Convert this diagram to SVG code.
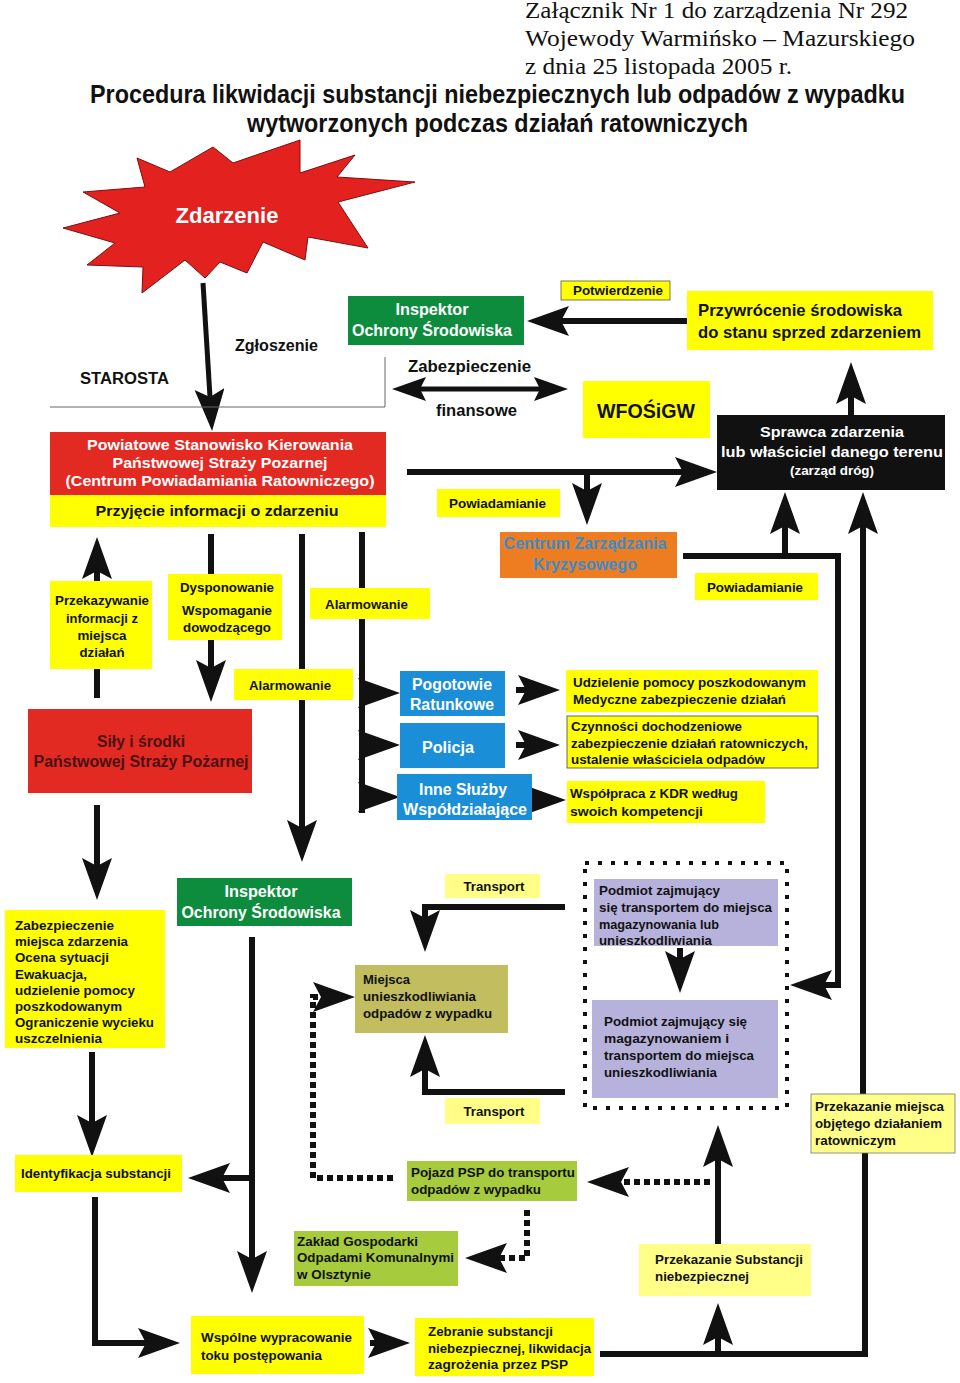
<svg xmlns="http://www.w3.org/2000/svg" width="960" height="1383" viewBox="0 0 960 1383">
<style>
text{font-family:"Liberation Sans",Arial,sans-serif;font-weight:bold;fill:#111;font-size:13.5px;}
.hd{font-family:"Liberation Serif","Times New Roman",serif;font-weight:normal;font-size:23px;}
.ti{font-size:25px;}
.w{fill:#fff;}
.s13{font-size:13px;}
.s15{font-size:15px;}
.s16{font-size:16px;}
.s17{font-size:17px;}
.m{text-anchor:middle;}
.y{fill:#ffff00;}
.ly{fill:#ffff88;}
.red{fill:#e32a22;}
.grn{fill:#0e8c3e;}
.blu{fill:#1a8ed6;}
.lime{fill:#a6cb3c;}
.pur{fill:#b7b2dc;}
.ln{fill:none;stroke:#111;stroke-width:6;}
.ar{marker-end:url(#ah);}
.dt{stroke-dasharray:6 4;}
</style>
<defs>
<marker id="ah" viewBox="0 0 42 30" markerWidth="42" markerHeight="30" refX="8" refY="15" orient="auto-start-reverse" markerUnits="userSpaceOnUse"><path d="M0,0 L42,15 L0,30 L8,15 z" fill="#111"/></marker>
<marker id="ahs" viewBox="0 0 34 24" markerWidth="34" markerHeight="24" refX="6" refY="12" orient="auto-start-reverse" markerUnits="userSpaceOnUse"><path d="M0,0 L34,12 L0,24 L6,12 z" fill="#111"/></marker>
</defs>
<rect width="960" height="1383" fill="#fff"/>

<g id="header">
<text class="hd" x="525" y="18" textLength="383" lengthAdjust="spacingAndGlyphs">Załącznik Nr 1 do zarządzenia Nr 292</text>
<text class="hd" x="525" y="46" textLength="390" lengthAdjust="spacingAndGlyphs">Wojewody Warmińsko – Mazurskiego</text>
<text class="hd" x="525" y="74" textLength="267" lengthAdjust="spacingAndGlyphs">z dnia 25 listopada 2005 r.</text>
<text class="ti" x="90" y="103" textLength="815" lengthAdjust="spacingAndGlyphs">Procedura likwidacji substancji niebezpiecznych lub odpadów z wypadku</text>
<text class="ti" x="247" y="132" textLength="501" lengthAdjust="spacingAndGlyphs">wytworzonych podczas działań ratowniczych</text>
</g>

<g id="connectors">
<path class="ln ar" style="stroke-width:5" d="M203,283 L210,397"/>
<path class="ln ar" d="M687,321 H561"/>
<path class="ln" style="stroke-width:5;marker-start:url(#ahs);marker-end:url(#ahs)" d="M420,389 H540"/>
<path class="ln ar" d="M851,416 V396"/>
<path class="ln ar" d="M407,472 H683"/>
<path class="ln ar" d="M587,472 V491"/>
<path class="ln ar" d="M683,556 H838 V985 H824"/>
<path class="ln ar" d="M785,556 V526"/>
<path class="ln ar" d="M863,1095 V526"/>
<path class="ln ar" d="M97,581 V571"/>
<path class="ln" d="M97,669 V698"/>
<path class="ln" d="M211,534 V574"/>
<path class="ln ar" d="M211,640 V668"/>
<path class="ln ar" d="M302,534 V828"/>
<path class="ln" d="M362,532 V813"/>
<path class="ln ar" d="M362,693 H366"/>
<path class="ln ar" d="M362,745 H366"/>
<path class="ln ar" d="M362,797 H366"/>
<path class="ln ar" d="M516,690 H526"/>
<path class="ln ar" d="M516,745 H526"/>
<path class="ln ar" d="M530,800 H532"/>
<path class="ln ar" d="M97,805 V866"/>
<path class="ln ar" d="M92,1052 V1123"/>
<path class="ln ar" d="M95,1197 V1343 H146"/>
<path class="ln ar" d="M252,937 V1259"/>
<path class="ln ar" d="M252,1178 H222"/>
<path class="ln ar" d="M565,907 H425 V918"/>
<path class="ln ar" d="M565,1092 H425 V1069"/>
<path class="ln ar" d="M680,948 V959"/>
<path class="ln ar" d="M370,1343 H376"/>
<path class="ln" d="M600,1354 H865 V1153"/>
<path class="ln ar" d="M718,1354 V1337"/>
<path class="ln ar" d="M718,1244 V1159"/>
<path class="ln ar dt" d="M710,1182 H621"/>
<path class="ln ar dt" d="M527,1210 V1258 H499"/>
<path class="ln ar dt" d="M393,1178 H313 V997 H321"/>
<path fill="none" stroke="#666" stroke-width="1" d="M50,407 H385 V357"/>
<rect x="585" y="863" width="202" height="245" fill="none" stroke="#111" stroke-width="4" stroke-dasharray="4 9"/>
</g>

<g id="zdarzenie">
<polygon points="83,192 145,187 137,158 170,172 213,147 233,163 300,140 300,173 355,155 337,177 415,182 338,202 368,248 308,237 305,260 263,242 247,273 220,262 205,278 185,260 142,293 143,267 87,265 115,243 63,228 120,213" fill="#e3211f" stroke="#7a1010" stroke-width="1"/>
<text class="w m" style="font-size:22px" x="227" y="223" textLength="103" lengthAdjust="spacingAndGlyphs">Zdarzenie</text>
</g>

<g id="labels-top">
<text class="s16" x="235" y="351" textLength="83" lengthAdjust="spacingAndGlyphs">Zgłoszenie</text>
<text class="s16" x="80" y="384" textLength="89" lengthAdjust="spacingAndGlyphs">STAROSTA</text>
<text class="s16" x="408" y="372" textLength="123" lengthAdjust="spacingAndGlyphs">Zabezpieczenie</text>
<text class="s16" x="436" y="416" textLength="81" lengthAdjust="spacingAndGlyphs">finansowe</text>
</g>

<g id="psk">
<rect class="red" x="50" y="432" width="336" height="63"/>
<rect class="y" x="50" y="495" width="336" height="32"/>
<text class="w m s15" x="220" y="450" textLength="266" lengthAdjust="spacingAndGlyphs">Powiatowe Stanowisko Kierowania</text>
<text class="w m s15" x="220" y="468" textLength="215" lengthAdjust="spacingAndGlyphs">Państwowej Straży Pozarnej</text>
<text class="w m s15" x="220" y="486" textLength="309" lengthAdjust="spacingAndGlyphs">(Centrum Powiadamiania Ratowniczego)</text>
<text class="m s15" x="217" y="516" textLength="243" lengthAdjust="spacingAndGlyphs">Przyjęcie informacji o zdarzeniu</text>
</g>

<g id="ios-top">
<rect class="grn" x="348" y="296" width="176" height="49"/>
<text class="w m s16" x="432" y="315" textLength="73" lengthAdjust="spacingAndGlyphs">Inspektor</text>
<text class="w m s16" x="432" y="336" textLength="160" lengthAdjust="spacingAndGlyphs">Ochrony Środowiska</text>
</g>

<g id="potwierdzenie">
<rect class="y" x="561" y="281" width="109" height="19" stroke="#555" stroke-width="0.8"/>
<text class="s13" x="573" y="295" textLength="90" lengthAdjust="spacingAndGlyphs">Potwierdzenie</text>
</g>

<g id="przywrocenie">
<rect class="y" x="687" y="291" width="246" height="59"/>
<text class="s17" x="698" y="316" textLength="204" lengthAdjust="spacingAndGlyphs">Przywrócenie środowiska</text>
<text class="s17" x="698" y="338" textLength="223" lengthAdjust="spacingAndGlyphs">do stanu sprzed zdarzeniem</text>
</g>

<g id="wfos">
<rect class="y" x="583" y="381" width="127" height="57"/>
<text class="m" style="font-size:21px" x="646" y="418" textLength="98" lengthAdjust="spacingAndGlyphs">WFOŚiGW</text>
</g>

<g id="sprawca">
<rect x="717" y="415" width="228" height="75" fill="#111"/>
<text class="w m s15" x="832" y="437" textLength="144" lengthAdjust="spacingAndGlyphs">Sprawca zdarzenia</text>
<text class="w m s15" x="832" y="457" textLength="222" lengthAdjust="spacingAndGlyphs">lub właściciel danego terenu</text>
<text class="w m s13" x="832" y="475" textLength="84" lengthAdjust="spacingAndGlyphs">(zarząd dróg)</text>
</g>

<g id="powiadamianie1">
<rect class="y" x="437" y="489" width="123" height="28"/>
<text class="s13" x="449" y="508" textLength="97" lengthAdjust="spacingAndGlyphs">Powiadamianie</text>
</g>

<g id="czk">
<rect x="500" y="532" width="177" height="46" fill="#ee7d22"/>
<text class="m s16" style="fill:#3a8ccc" x="585" y="549" textLength="163" lengthAdjust="spacingAndGlyphs">Centrum Zarządzania</text>
<text class="m s16" style="fill:#3a8ccc" x="585" y="570" textLength="104" lengthAdjust="spacingAndGlyphs">Kryzysowego</text>
</g>

<g id="powiadamianie2">
<rect class="y" x="695" y="573" width="123" height="27"/>
<text class="s13" x="707" y="592" textLength="96" lengthAdjust="spacingAndGlyphs">Powiadamianie</text>
</g>

<g id="przekazywanie">
<rect class="y" x="50" y="581" width="102" height="88"/>
<text class="m s13" x="102" y="605" textLength="94" lengthAdjust="spacingAndGlyphs">Przekazywanie</text>
<text class="m s13" x="102" y="623" textLength="72" lengthAdjust="spacingAndGlyphs">informacji z</text>
<text class="m s13" x="102" y="640" textLength="49" lengthAdjust="spacingAndGlyphs">miejsca</text>
<text class="m s13" x="102" y="657" textLength="45" lengthAdjust="spacingAndGlyphs">działań</text>
</g>

<g id="dysponowanie">
<rect class="y" x="168" y="574" width="114" height="66"/>
<text class="m s13" x="227" y="592" textLength="94" lengthAdjust="spacingAndGlyphs">Dysponowanie</text>
<text class="m s13" x="227" y="615" textLength="90" lengthAdjust="spacingAndGlyphs">Wspomaganie</text>
<text class="m s13" x="227" y="632" textLength="88" lengthAdjust="spacingAndGlyphs">dowodzącego</text>
</g>

<g id="alarmowanie1">
<rect class="y" x="310" y="588" width="120" height="31"/>
<text class="s13" x="325" y="609" textLength="83" lengthAdjust="spacingAndGlyphs">Alarmowanie</text>
</g>

<g id="alarmowanie2">
<rect class="y" x="234" y="669" width="119" height="31"/>
<text class="s13" x="249" y="690" textLength="82" lengthAdjust="spacingAndGlyphs">Alarmowanie</text>
</g>

<g id="sily">
<rect class="red" x="28" y="709" width="224" height="84"/>
<text class="m s16" style="fill:#4a1212" x="141" y="747" textLength="88" lengthAdjust="spacingAndGlyphs">Siły i środki</text>
<text class="m s16" style="fill:#4a1212" x="141" y="767" textLength="215" lengthAdjust="spacingAndGlyphs">Państwowej Straży Pożarnej</text>
</g>

<g id="pogotowie">
<rect class="blu" x="400" y="671" width="105" height="45"/>
<text class="w m s16" x="452" y="690" textLength="80" lengthAdjust="spacingAndGlyphs">Pogotowie</text>
<text class="w m s16" x="452" y="710" textLength="84" lengthAdjust="spacingAndGlyphs">Ratunkowe</text>
</g>

<g id="policja">
<rect class="blu" x="400" y="723" width="105" height="45"/>
<text class="w m s16" x="448" y="753" textLength="52" lengthAdjust="spacingAndGlyphs">Policja</text>
</g>

<g id="inne">
<rect class="blu" x="397" y="774" width="135" height="46"/>
<text class="w m s16" x="463" y="795" textLength="88" lengthAdjust="spacingAndGlyphs">Inne Służby</text>
<text class="w m s16" x="465" y="815" textLength="124" lengthAdjust="spacingAndGlyphs">Współdziałające</text>
</g>

<g id="udzielenie">
<rect class="y" x="566" y="670" width="252" height="42"/>
<text x="573" y="687" textLength="233" lengthAdjust="spacingAndGlyphs">Udzielenie pomocy poszkodowanym</text>
<text x="573" y="704" textLength="213" lengthAdjust="spacingAndGlyphs">Medyczne zabezpieczenie działań</text>
</g>

<g id="czynnosci">
<rect class="y" x="567" y="716" width="251" height="52" stroke="#444" stroke-width="0.8"/>
<text x="571" y="731" textLength="171" lengthAdjust="spacingAndGlyphs">Czynności dochodzeniowe</text>
<text x="571" y="748" textLength="237" lengthAdjust="spacingAndGlyphs">zabezpieczenie działań ratowniczych,</text>
<text x="571" y="764" textLength="194" lengthAdjust="spacingAndGlyphs">ustalenie właściciela odpadów</text>
</g>

<g id="wspolpraca">
<rect class="y" x="567" y="781" width="198" height="42"/>
<text x="570" y="798" textLength="168" lengthAdjust="spacingAndGlyphs">Współpraca z KDR według</text>
<text x="570" y="816" textLength="133" lengthAdjust="spacingAndGlyphs">swoich kompetencji</text>
</g>

<g id="ios-bottom">
<rect class="grn" x="177" y="878" width="175" height="48"/>
<text class="w m s16" x="261" y="897" textLength="73" lengthAdjust="spacingAndGlyphs">Inspektor</text>
<text class="w m s16" x="261" y="918" textLength="159" lengthAdjust="spacingAndGlyphs">Ochrony Środowiska</text>
</g>

<g id="zabezpieczenie">
<rect class="y" x="5" y="910" width="160" height="138"/>
<text x="15" y="930" textLength="99" lengthAdjust="spacingAndGlyphs">Zabezpieczenie</text>
<text x="15" y="946" textLength="113" lengthAdjust="spacingAndGlyphs">miejsca zdarzenia</text>
<text x="15" y="962" textLength="94" lengthAdjust="spacingAndGlyphs">Ocena sytuacji</text>
<text x="15" y="979" textLength="72" lengthAdjust="spacingAndGlyphs">Ewakuacja,</text>
<text x="15" y="995" textLength="120" lengthAdjust="spacingAndGlyphs">udzielenie pomocy</text>
<text x="15" y="1011" textLength="107" lengthAdjust="spacingAndGlyphs">poszkodowanym</text>
<text x="15" y="1027" textLength="139" lengthAdjust="spacingAndGlyphs">Ograniczenie wycieku</text>
<text x="15" y="1043" textLength="87" lengthAdjust="spacingAndGlyphs">uszczelnienia</text>
</g>

<g id="transport1">
<rect class="ly" x="445" y="874" width="95" height="24"/>
<text class="m s13" x="494" y="891" textLength="61" lengthAdjust="spacingAndGlyphs">Transport</text>
</g>

<g id="miejsca">
<rect x="355" y="965" width="153" height="68" fill="#c2bd5e"/>
<text x="363" y="984" textLength="47" lengthAdjust="spacingAndGlyphs">Miejsca</text>
<text x="363" y="1001" textLength="113" lengthAdjust="spacingAndGlyphs">unieszkodliwiania</text>
<text x="363" y="1018" textLength="129" lengthAdjust="spacingAndGlyphs">odpadów z wypadku</text>
</g>

<g id="podmiot1">
<rect class="pur" x="594" y="879" width="184" height="67"/>
<text x="599" y="895" textLength="121" lengthAdjust="spacingAndGlyphs">Podmiot zajmujący</text>
<text x="599" y="912" textLength="173" lengthAdjust="spacingAndGlyphs">się transportem do miejsca</text>
<text x="599" y="929" textLength="120" lengthAdjust="spacingAndGlyphs">magazynowania lub</text>
<text x="599" y="945" textLength="113" lengthAdjust="spacingAndGlyphs">unieszkodliwiania</text>
</g>

<g id="podmiot2">
<rect class="pur" x="592" y="1000" width="186" height="98"/>
<text x="604" y="1026" textLength="143" lengthAdjust="spacingAndGlyphs">Podmiot zajmujący się</text>
<text x="604" y="1043" textLength="125" lengthAdjust="spacingAndGlyphs">magazynowaniem i</text>
<text x="604" y="1060" textLength="150" lengthAdjust="spacingAndGlyphs">transportem do miejsca</text>
<text x="604" y="1077" textLength="113" lengthAdjust="spacingAndGlyphs">unieszkodliwiania</text>
</g>

<g id="transport2">
<rect class="ly" x="445" y="1098" width="95" height="26"/>
<text class="m s13" x="494" y="1116" textLength="61" lengthAdjust="spacingAndGlyphs">Transport</text>
</g>

<g id="przekazanie-miejsca">
<rect class="ly" x="811" y="1094" width="144" height="59" stroke="#777" stroke-width="0.8"/>
<text x="815" y="1111" textLength="129" lengthAdjust="spacingAndGlyphs">Przekazanie miejsca</text>
<text x="815" y="1128" textLength="127" lengthAdjust="spacingAndGlyphs">objętego działaniem</text>
<text x="815" y="1145" textLength="81" lengthAdjust="spacingAndGlyphs">ratowniczym</text>
</g>

<g id="identyfikacja">
<rect class="y" x="15" y="1155" width="167" height="37"/>
<text x="21" y="1178" textLength="150" lengthAdjust="spacingAndGlyphs">Identyfikacja substancji</text>
</g>

<g id="pojazd">
<rect class="lime" x="407" y="1161" width="170" height="40"/>
<text x="411" y="1177" textLength="164" lengthAdjust="spacingAndGlyphs">Pojazd PSP do transportu</text>
<text x="411" y="1194" textLength="130" lengthAdjust="spacingAndGlyphs">odpadów z wypadku</text>
</g>

<g id="zaklad">
<rect class="lime" x="294" y="1231" width="164" height="55"/>
<text x="297" y="1246" textLength="121" lengthAdjust="spacingAndGlyphs">Zakład Gospodarki</text>
<text x="297" y="1262" textLength="157" lengthAdjust="spacingAndGlyphs">Odpadami Komunalnymi</text>
<text x="297" y="1279" textLength="74" lengthAdjust="spacingAndGlyphs">w Olsztynie</text>
</g>

<g id="przekazanie-substancji">
<rect class="ly" x="639" y="1244" width="172" height="52"/>
<text x="655" y="1264" textLength="148" lengthAdjust="spacingAndGlyphs">Przekazanie Substancji</text>
<text x="655" y="1281" textLength="94" lengthAdjust="spacingAndGlyphs">niebezpiecznej</text>
</g>

<g id="wspolne">
<rect class="y" x="191" y="1316" width="173" height="58"/>
<text x="201" y="1342" textLength="151" lengthAdjust="spacingAndGlyphs">Wspólne wypracowanie</text>
<text x="201" y="1360" textLength="121" lengthAdjust="spacingAndGlyphs">toku postępowania</text>
</g>

<g id="zebranie">
<rect class="y" x="415" y="1318" width="179" height="58"/>
<text x="428" y="1336" textLength="125" lengthAdjust="spacingAndGlyphs">Zebranie substancji</text>
<text x="428" y="1353" textLength="163" lengthAdjust="spacingAndGlyphs">niebezpiecznej, likwidacja</text>
<text x="428" y="1369" textLength="140" lengthAdjust="spacingAndGlyphs">zagrożenia przez PSP</text>
</g>
</svg>
